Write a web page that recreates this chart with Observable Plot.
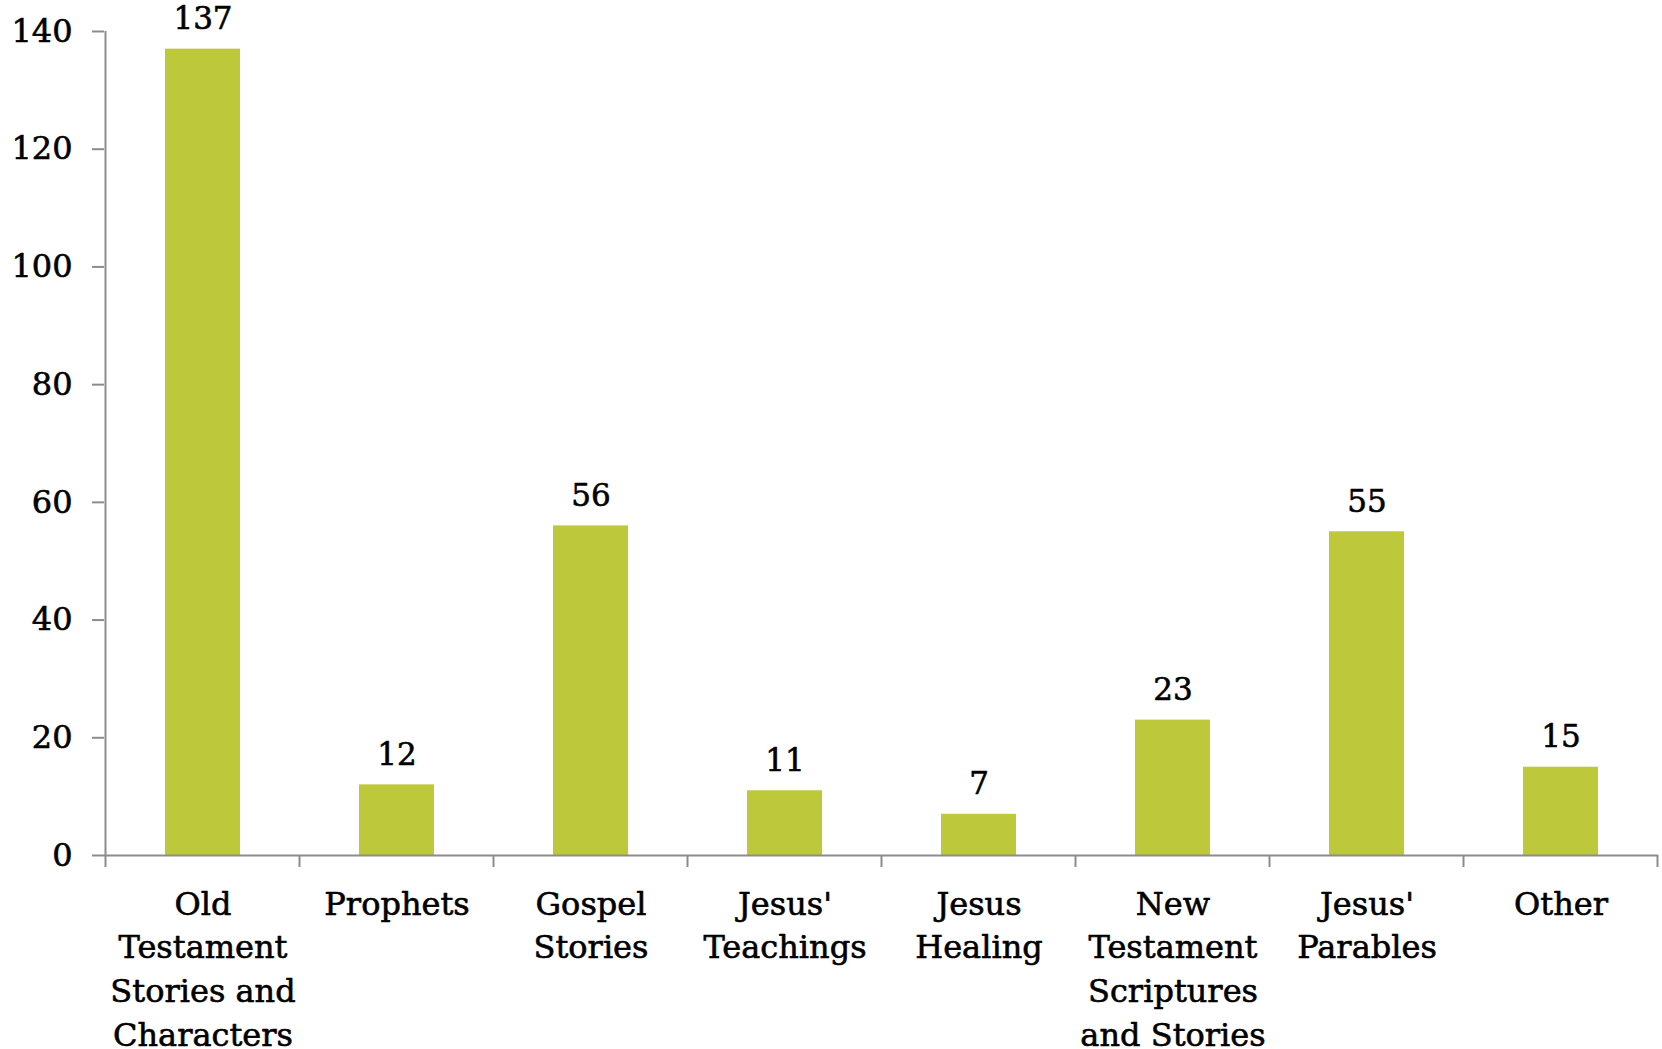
<!DOCTYPE html>
<html>
<head>
<meta charset="utf-8">
<script src="https://cdn.jsdelivr.net/npm/d3@7"></script>
<script src="https://cdn.jsdelivr.net/npm/@observablehq/plot@0.6"></script>
<style>
  html, body { margin: 0; padding: 0; background: #fff; }
  #chart svg { display: block; }
</style>
</head>
<body>
<div id="chart"></div>
<script>
const categories = [
  "Old Testament Stories and Characters",
  "Prophets",
  "Gospel Stories",
  "Jesus' Teachings",
  "Jesus Healing",
  "New Testament Scriptures and Stories",
  "Jesus' Parables",
  "Other"
];
const categoryLabels = [
  "Old\nTestament\nStories and\nCharacters",
  "Prophets",
  "Gospel\nStories",
  "Jesus'\nTeachings",
  "Jesus\nHealing",
  "New\nTestament\nScriptures\nand Stories",
  "Jesus'\nParables",
  "Other"
];
const values = [137, 12, 56, 11, 7, 23, 55, 15];
const yTicks = [0, 20, 40, 60, 80, 100, 120, 140];

const data = categories.map((c, i) => ({cat: c, label: categoryLabels[i], value: values[i]}));

const FONT = "'DejaVu Serif', serif";
const BAR = "#bdc83a";
const AXIS = "#8c8c8c";
const TXT = {fill: "#000", stroke: "#000", strokeWidth: 0.6};

const chart = Plot.plot({
  width: 1662,
  height: 1049,
  marginLeft: 104,
  marginRight: 4,
  marginTop: 31,
  marginBottom: 194,
  style: {fontFamily: FONT, color: "#000", background: "#fff"},
  x: {domain: categories, paddingInner: 0.614, paddingOuter: 0.307, axis: null},
  y: {domain: [0, 140], axis: null},
  marks: [
    Plot.barY(data, {x: "cat", y: "value", fill: BAR}),
    Plot.ruleY([0], {stroke: AXIS, strokeWidth: 2}),
    Plot.axisY({ticks: yTicks, tickSize: 12, tickPadding: 20, fontSize: 32, stroke: AXIS, strokeWidth: 2, fill: "#000", label: null}),
    Plot.text(data, {x: "cat", y: "value", text: d => String(d.value), lineAnchor: "bottom", dy: -20, fontSize: 31, ...TXT}),
    Plot.text(data, {x: "cat", text: "label", frameAnchor: "bottom", lineAnchor: "top", dy: 28, lineHeight: 1.37, fontSize: 32, ...TXT})
  ]
});

// axis lines and boundary ticks drawn via Plot's scales
const sx = chart.scale("x");
const sy = chart.scale("y");
const step = sx.step;
const bw = sx.bandwidth;
const y0 = sy.apply(0), yTop = sy.apply(140);
const g = d3.select(chart).append("g").attr("stroke", AXIS).attr("stroke-width", 2);
const xLeft = sx.apply(categories[0]) - (step - bw) / 2;
g.append("line").attr("x1", xLeft).attr("x2", xLeft).attr("y1", y0).attr("y2", yTop);
const bounds = categories.map(c => sx.apply(c) - (step - bw) / 2);
bounds.push(sx.apply(categories[categories.length - 1]) + bw + (step - bw) / 2);
bounds.forEach(b => {
  g.append("line").attr("x1", b).attr("x2", b).attr("y1", y0).attr("y2", y0 + 12);
});

// y tick labels without stroke thickening match better with slight weight too
d3.select(chart).selectAll("g[aria-label='y-axis tick label'] text").attr("stroke", "#000").attr("stroke-width", 0.6);

document.getElementById("chart").appendChild(chart);
</script>
</body>
</html>
